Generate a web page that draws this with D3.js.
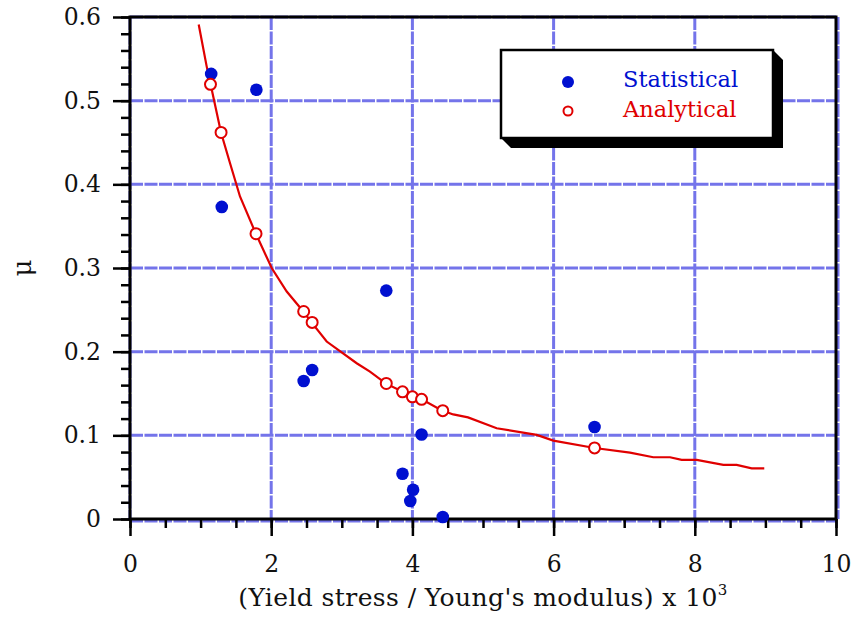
<!DOCTYPE html>
<html><head><meta charset="utf-8">
<script src="https://cdn.jsdelivr.net/npm/d3@7"></script>
<style>body{margin:0;background:#fff}svg{display:block}text{font-family:"DejaVu Serif",serif}</style>
</head><body><svg id="c" width="852" height="618"></svg>
<script>
// Data
const statX = [1.15, 1.79, 1.30, 2.46, 2.58, 3.63, 3.86, 4.01, 3.97, 4.13, 4.43, 6.58];
const statY = [0.532, 0.513, 0.373, 0.165, 0.178, 0.273, 0.054, 0.035, 0.0215, 0.101, 0.0024, 0.110];
const anaX = [1.14, 1.29, 1.785, 2.46, 2.58, 3.63, 3.86, 4.00, 4.13, 4.43, 6.58];
const anaY = [0.5195, 0.462, 0.341, 0.248, 0.235, 0.162, 0.152, 0.146, 0.143, 0.1295, 0.085];
const curveX = [0.973, 1.086, 1.143, 1.289, 1.416, 1.558, 1.785, 2.007, 2.220, 2.455, 2.574, 2.786, 3.211, 3.399, 3.626, 3.857, 4.013, 4.132, 4.424, 4.579, 4.788, 5.194, 5.761, 5.996, 6.582, 7.082, 7.412, 7.649, 7.814, 8.027, 8.404, 8.593, 8.806, 8.984];
const curveY = [0.591, 0.541, 0.519, 0.462, 0.4255, 0.3855, 0.3406, 0.2999, 0.2719, 0.2480, 0.2348, 0.2121, 0.1862, 0.1762, 0.1618, 0.1523, 0.1456, 0.1432, 0.1295, 0.125, 0.1214, 0.1085, 0.1005, 0.0937, 0.0849, 0.0793, 0.0738, 0.0738, 0.0706, 0.0706, 0.0646, 0.0646, 0.0606, 0.0606];
const xTicks = [0, 2, 4, 6, 8, 10];
const yTicks = [0, 0.1, 0.2, 0.3, 0.4, 0.5, 0.6];
const xMinor = d3.range(0, 10.001, 0.5);
const yMinor = d3.range(0, 0.6001, 0.02);
const legendLabels = ["Statistical", "Analytical"];

const BLUE = "#0010d0", RED = "#e00000", GRID = "#7474ea";
const svg = d3.select("#c");
const x = d3.scaleLinear().domain([0, 10]).range([130, 836]);
const y = d3.scaleLinear().domain([0, 0.6]).range([519, 17]);

// grid
const g = svg.append("g");
g.selectAll(".gx").data(xTicks).join("line")
  .attr("x1", d => x(d) + (d === 10 ? 2 : 0)).attr("x2", d => x(d) + (d === 10 ? 2 : 0))
  .attr("y1", y(0.6)).attr("y2", y(0))
  .attr("stroke", GRID).attr("stroke-width", 3).attr("stroke-dasharray", "13,1.5");
g.selectAll(".gy").data(yTicks).join("line")
  .attr("y1", d => y(d) + (d === 0 ? 2 : 0)).attr("y2", d => y(d) + (d === 0 ? 2 : 0))
  .attr("x1", x(0)).attr("x2", x(10))
  .attr("stroke", GRID).attr("stroke-width", 3).attr("stroke-dasharray", "13,1.5");

// axes ticks
const fmtY = d => d === 0 ? "0" : d3.format(".1f")(d);
const axB = svg.append("g").attr("transform", `translate(0,${y(0)})`)
  .call(d3.axisBottom(x).tickValues(xMinor).tickSize(9).tickFormat(""));
const axB2 = svg.append("g").attr("transform", `translate(0,${y(0)})`)
  .call(d3.axisBottom(x).tickValues(xTicks).tickSize(17).tickPadding(19).tickFormat(d3.format("d")));
const axL = svg.append("g").attr("transform", `translate(${x(0)},0)`)
  .call(d3.axisLeft(y).tickValues(yMinor).tickSize(9).tickFormat(""));
const axL2 = svg.append("g").attr("transform", `translate(${x(0)},0)`)
  .call(d3.axisLeft(y).tickValues(yTicks).tickSize(17).tickPadding(12).tickFormat(fmtY));
[axB, axB2, axL, axL2].forEach(a => {
  a.select(".domain").remove();
  a.selectAll(".tick line").attr("stroke", "#000").attr("stroke-width", 2.5);
  a.selectAll(".tick text").attr("font-family", "DejaVu Serif").attr("font-size", 23.5).attr("fill", "#111");
});

// frame
svg.append("rect").attr("x", x(0)).attr("y", y(0.6)).attr("width", x(10) - x(0)).attr("height", y(0) - y(0.6))
  .attr("fill", "none").attr("stroke", "#000").attr("stroke-width", 3);

// curve
const line = d3.line().x(d => x(d[0])).y(d => y(d[1]));
svg.append("path").datum(d3.zip(curveX, curveY)).attr("d", line)
  .attr("fill", "none").attr("stroke", RED).attr("stroke-width", 2.2);

// statistical points
svg.selectAll(".st").data(d3.zip(statX, statY)).join("circle")
  .attr("cx", d => x(d[0])).attr("cy", d => y(d[1])).attr("r", 6.3).attr("fill", BLUE);
// analytical points
svg.selectAll(".an").data(d3.zip(anaX, anaY)).join("circle")
  .attr("cx", d => x(d[0])).attr("cy", d => y(d[1])).attr("r", 5.5)
  .attr("fill", "#fff").attr("stroke", RED).attr("stroke-width", 2);

// legend
const L = svg.append("g");
L.append("polygon").attr("points", "773,50 783,60 783,148 511,148 501,138").attr("fill", "#000");
L.append("rect").attr("x", 501).attr("y", 50).attr("width", 272).attr("height", 88)
  .attr("fill", "#fff").attr("stroke", "#000").attr("stroke-width", 2.5);
L.append("circle").attr("cx", 568).attr("cy", 82).attr("r", 6).attr("fill", BLUE);
L.append("circle").attr("cx", 568).attr("cy", 111).attr("r", 4.5).attr("fill", "#fff").attr("stroke", RED).attr("stroke-width", 2);
L.append("text").attr("x", 623).attr("y", 87).attr("font-size", 22.5).attr("fill", BLUE).text(legendLabels[0]);
L.append("text").attr("x", 623).attr("y", 117).attr("font-size", 22.5).attr("fill", RED).text(legendLabels[1]);

// axis titles
const xt = svg.append("text").attr("x", 483).attr("y", 606).attr("text-anchor", "middle")
  .attr("font-size", 25).attr("letter-spacing", 0.4).attr("fill", "#111");
xt.append("tspan").text("(Yield stress / Young's modulus) x 10");
xt.append("tspan").attr("dy", -11).attr("font-size", 15).text("3");
svg.append("text").attr("transform", `translate(31,${y(0.3)}) rotate(-90)`).attr("text-anchor", "middle")
  .attr("font-size", 26).attr("fill", "#111").text("μ");
</script></body></html>
